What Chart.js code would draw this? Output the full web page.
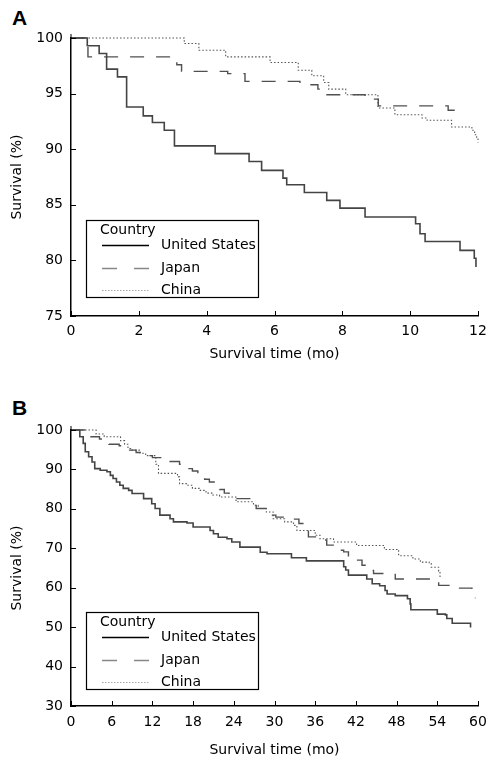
<!DOCTYPE html>
<html>
<head>
<meta charset="utf-8">
<script src="https://cdn.jsdelivr.net/npm/chart.js@4.4.1/dist/chart.umd.min.js"></script>
<style>
  body { margin: 0; background: #fff; width: 496px; height: 768px; overflow: hidden; position: relative; }
  canvas { position: absolute; left: 0; }
  #chartA { top: 0; }
  #chartB { top: 384px; }
  .tag { position: absolute; left: 12px; font: bold 21px "Liberation Sans", Arial, sans-serif; line-height: 21px; color: #000; }
</style>
</head>
<body>
<div class="tag" style="top:7px">A</div>
<div class="tag" style="top:397px">B</div>
<canvas id="chartA" width="496" height="384"></canvas>
<canvas id="chartB" width="496" height="384"></canvas>
<script>
// ---- Panel A: 12-month survival ----
const usTimeA = [0, 0.48, 0.83, 1.05, 1.37, 1.64, 2.13, 2.40, 2.75, 3.05, 4.25, 5.25, 5.62, 6.25, 6.36, 6.88, 7.54, 7.93, 8.67, 10.16, 10.29, 10.44, 11.47, 11.89, 11.94];
const usSurvA = [100, 99.3, 98.6, 97.2, 96.5, 93.8, 93.0, 92.4, 91.7, 90.3, 89.6, 88.9, 88.1, 87.4, 86.8, 86.1, 85.4, 84.7, 83.9, 83.3, 82.4, 81.7, 80.9, 80.2, 79.4];
const japanTimeA = [0, 0.50, 2.97, 3.12, 3.26, 4.62, 5.13, 6.75, 7.28, 7.43, 8.67, 9.06, 11.12, 11.47];
const japanSurvA = [100, 98.3, 98.0, 97.6, 97.0, 96.8, 96.1, 95.8, 95.4, 94.9, 94.5, 93.9, 93.5, 93.3];
const chinaTimeA = [0, 3.34, 3.77, 4.56, 5.87, 6.70, 7.10, 7.45, 7.60, 8.10, 9.05, 9.55, 10.35, 10.50, 11.22, 11.82, 11.90, 11.96, 12.0];
const chinaSurvA = [100, 99.5, 98.9, 98.3, 97.8, 97.1, 96.6, 96.0, 95.4, 94.9, 93.7, 93.1, 92.8, 92.6, 92.0, 91.7, 91.3, 91.0, 90.6];
const xTicksA = [0, 2, 4, 6, 8, 10, 12];
const yTicksA = [75, 80, 85, 90, 95, 100];

// ---- Panel B: 60-month survival ----
const usTimeB = [0, 1.3, 1.8, 2.1, 2.6, 3.1, 3.5, 4.3, 5.3, 5.8, 6.2, 6.7, 7.2, 7.7, 8.5, 9.0, 10.7, 11.9, 12.4, 13.1, 14.6, 15.1, 17.1, 18.0, 20.5, 21.0, 21.7, 23.0, 23.7, 24.9, 27.9, 28.9, 32.5, 34.7, 40.2, 40.5, 40.9, 43.6, 44.4, 45.5, 46.3, 46.6, 47.8, 49.6, 50.0, 50.1, 54.0, 55.2, 55.4, 56.2, 58.9];
const usSurvB = [100, 98.3, 96.6, 94.5, 93.2, 91.9, 90.2, 89.8, 89.4, 88.5, 87.7, 86.8, 86.0, 85.2, 84.7, 83.9, 82.6, 81.3, 80.1, 78.4, 77.5, 76.7, 76.4, 75.4, 74.5, 73.7, 72.8, 72.4, 71.6, 70.3, 69.0, 68.6, 67.6, 66.8, 65.3, 64.5, 63.2, 62.2, 61.0, 60.5, 59.3, 58.4, 58.0, 57.2, 55.9, 54.4, 53.3, 53.1, 52.2, 51.0, 49.9];
const japanTimeB = [0, 2.0, 4.2, 5.6, 7.1, 8.1, 9.6, 11.1, 12.0, 13.5, 14.5, 16.0, 16.7, 17.4, 17.9, 18.7, 19.7, 20.4, 21.1, 21.4, 21.9, 22.6, 23.3, 24.3, 26.5, 27.3, 29.0, 29.7, 30.2, 32.3, 33.6, 34.6, 34.8, 35.0, 37.3, 37.7, 39.0, 39.2, 40.2, 40.9, 41.4, 42.9, 43.6, 44.4, 44.6, 47.8, 53.0, 54.2, 56.4, 59.1, 59.4, 59.6];
const japanSurvB = [100, 98.3, 97.7, 96.4, 96.0, 94.9, 94.3, 93.5, 93.0, 92.2, 92.0, 91.3, 90.8, 90.2, 89.6, 89.0, 87.5, 86.8, 86.4, 85.6, 84.9, 84.0, 83.5, 82.6, 82.2, 80.1, 79.6, 78.4, 77.9, 77.4, 76.3, 75.9, 74.6, 72.9, 72.1, 70.8, 70.4, 69.5, 69.1, 67.4, 67.0, 65.7, 65.3, 64.4, 63.6, 62.2, 61.4, 60.6, 59.9, 58.9, 58.0, 57.3];
const chinaTimeB = [0, 3.7, 4.9, 7.3, 7.9, 8.4, 8.8, 10.2, 11.0, 12.5, 12.9, 15.7, 16.0, 17.0, 17.9, 18.9, 19.9, 20.9, 21.9, 24.3, 24.6, 26.9, 27.6, 28.8, 29.8, 31.5, 32.8, 33.3, 36.0, 36.7, 38.7, 42.1, 46.2, 48.3, 50.4, 51.5, 52.8, 53.1, 54.2, 54.4];
const chinaSurvB = [100, 99.0, 98.3, 97.3, 96.4, 95.3, 94.9, 94.1, 93.5, 91.3, 89.0, 88.1, 86.4, 86.0, 85.2, 84.7, 84.0, 83.5, 83.0, 82.2, 81.8, 80.9, 80.1, 79.2, 77.5, 76.7, 75.8, 74.5, 73.3, 72.4, 71.6, 70.7, 69.7, 68.1, 67.3, 66.5, 66.1, 65.2, 64.2, 62.5];
const xTicksB = [0, 6, 12, 18, 24, 30, 36, 42, 48, 54, 60];
const yTicksB = [30, 40, 50, 60, 70, 80, 90, 100];

const countries = ["United States", "Japan", "China"];
const legendTitle = "Country";

Chart.defaults.font.family = '"DejaVu Sans", Verdana, sans-serif';
Chart.defaults.font.size = 14;
Chart.defaults.color = "#000";

const toPoints = (t, s) => t.map((v, i) => ({ x: v, y: s[i] }));

// inward tick marks + boxed legend inside the plot
const decor = {
    id: "decor",
    afterDraw(chart, args, opts) {
        const { ctx, chartArea: area, scales: { x, y } } = chart;
        ctx.save();
        ctx.strokeStyle = "#000";
        ctx.lineWidth = 1;
        ctx.beginPath();
        x.ticks.forEach((t) => {
            const px = Math.round(x.getPixelForValue(t.value)) + 0.5;
            ctx.moveTo(px, area.bottom);
            ctx.lineTo(px, area.bottom - 5);
        });
        y.ticks.forEach((t) => {
            const py = Math.round(y.getPixelForValue(t.value)) + 0.5;
            ctx.moveTo(area.left, py);
            ctx.lineTo(area.left + 5, py);
        });
        // axis line runs a little above the top tick
        ctx.moveTo(area.left, area.top);
        ctx.lineTo(area.left, area.top - 4);
        ctx.stroke();

        const lx = area.left + 15, ly = opts.top, w = 172, h = 77;
        ctx.lineWidth = 1.2;
        ctx.strokeRect(lx + 0.5, ly + 0.5, w, h);
        ctx.fillStyle = "#000";
        ctx.font = '14px "DejaVu Sans"';
        ctx.textBaseline = "middle";
        ctx.fillText(legendTitle, lx + 14, ly + 10);
        chart.data.datasets.forEach((ds, i) => {
            const ry = Math.round(ly + 25 + i * 22.5) + 0.5;
            ctx.save();
            ctx.strokeStyle = ds.legendColor;
            ctx.lineWidth = ds.borderWidth;
            ctx.setLineDash(ds.legendDash);
            ctx.beginPath();
            ctx.moveTo(lx + 16, ry);
            ctx.lineTo(lx + 63, ry);
            ctx.stroke();
            ctx.restore();
            ctx.fillText(ds.label, lx + 75, ry);
        });
        ctx.restore();
    },
};

function makeChart(id, series, xTicks, yTicks, geo) {
    const styles = [
        { borderColor: "#444", borderWidth: 1.6, borderDash: [], legendColor: "#000", legendDash: [] },
        { borderColor: "#505050", borderWidth: 1.4, borderDash: [14, 12], legendColor: "#888", legendDash: [15, 17] },
        { borderColor: "#555", borderWidth: 1.1, borderDash: [1.5, 2], legendColor: "#aaa", legendDash: [1.5, 1.5] },
    ];
    const datasets = series.map((s, i) => ({
        label: countries[i],
        data: toPoints(s[0], s[1]),
        stepped: "before",
        fill: false,
        pointRadius: 0,
        clip: 4,
        ...styles[i],
    }));
    return new Chart(document.getElementById(id), {
        type: "line",
        data: { datasets },
        options: {
            responsive: false,
            devicePixelRatio: 1,
            animation: false,
            layout: { padding: { left: 0, top: geo.top, right: 18, bottom: 0 } },
            plugins: {
                legend: { display: false },
                tooltip: { enabled: false },
                decor: { top: geo.legendTop },
            },
            scales: {
                x: {
                    type: "linear",
                    min: xTicks[0],
                    max: xTicks[xTicks.length - 1],
                    afterBuildTicks: (s) => { s.ticks = xTicks.map((v) => ({ value: v })); },
                    afterFit: (s) => { s.height = geo.xHeight; },
                    grid: { display: false, drawTicks: false },
                    border: { display: true, color: "#000", width: 1.5 },
                    ticks: { padding: geo.xPad, maxRotation: 0, autoSkip: false },
                    title: { display: true, text: "Survival time (mo)", padding: { top: 0, bottom: geo.titlePad } },
                },
                y: {
                    min: yTicks[0],
                    max: yTicks[yTicks.length - 1],
                    afterBuildTicks: (s) => { s.ticks = yTicks.map((v) => ({ value: v })); },
                    afterFit: (s) => { s.width = 71; },
                    grid: { display: false, drawTicks: false },
                    border: { display: true, color: "#000", width: 1.5 },
                    ticks: { padding: 8, autoSkip: false },
                    title: { display: true, text: "Survival (%)", padding: { top: 9, bottom: 0 } },
                },
            },
        },
        plugins: [decor],
    });
}

makeChart("chartA",
    [[usTimeA, usSurvA], [japanTimeA, japanSurvA], [chinaTimeA, chinaSurvA]],
    xTicksA, yTicksA,
    { top: 38, xHeight: 68, xPad: 7, titlePad: 21.6, legendTop: 220 });

makeChart("chartB",
    [[usTimeB, usSurvB], [japanTimeB, japanSurvB], [chinaTimeB, chinaSurvB]],
    xTicksB, yTicksB,
    { top: 46, xHeight: 62, xPad: 8, titlePad: 9, legendTop: 228 });
</script>
</body>
</html>
